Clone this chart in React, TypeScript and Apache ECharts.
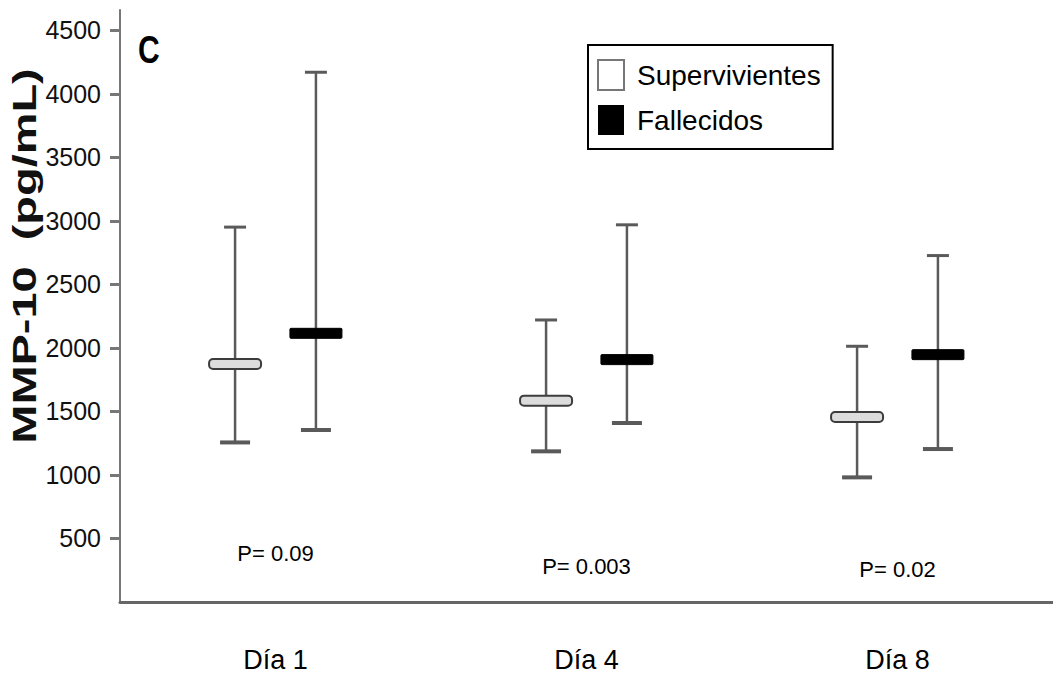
import React, { useEffect, useRef } from "react";
import * as echarts from "echarts";

const categories = ["Día 1", "Día 4", "Día 8"];
const seriesNames = ["Supervivientes", "Fallecidos"];
// [low, median, high] per day
const survLow = [1256, 1186, 981];
const survMedian = [1874, 1585, 1456];
const survHigh = [2951, 2220, 2013];
const fallLow = [1354, 1409, 1204];
const fallMedian = [2115, 1908, 1947];
const fallHigh = [4170, 2969, 2727];
const yTicks = [500, 1000, 1500, 2000, 2500, 3000, 3500, 4000, 4500];
const pLabels = ["P= 0.09", "P= 0.003", "P= 0.02"];
const pLabelY = [380, 278, 254];

const FONT = "'Liberation Sans', Arial, sans-serif";

function makeRenderer(offsetFrac: number, kind: "surv" | "fall") {
  return (params: any, api: any) => {
    const cat = api.value(0);
    const low = api.value(1);
    const med = api.value(2);
    const high = api.value(3);
    const band = api.size([1, 0])[0];
    const xc = api.coord([cat, med])[0] + offsetFrac * band;
    const yLow = api.coord([cat, low])[1];
    const yMed = api.coord([cat, med])[1];
    const yHigh = api.coord([cat, high])[1];
    const lineCol = "#5a5a5a";
    return {
      type: "group",
      children: [
        {
          type: "line",
          shape: { x1: xc, y1: yHigh, x2: xc, y2: yLow },
          style: { stroke: lineCol, lineWidth: 2.5 },
        },
        {
          type: "line",
          shape: { x1: xc - 11, y1: yHigh, x2: xc + 11, y2: yHigh },
          style: { stroke: lineCol, lineWidth: 3 },
        },
        {
          type: "line",
          shape: { x1: xc - 15, y1: yLow, x2: xc + 15, y2: yLow },
          style: { stroke: lineCol, lineWidth: 4 },
        },
        {
          type: "rect",
          shape: { x: xc - 26, y: yMed - 5, width: 52, height: 10, r: kind === "surv" ? 4 : 1 },
          style:
            kind === "surv"
              ? { fill: "#dcdcdc", stroke: "#3c3c3c", lineWidth: 2 }
              : { fill: "#000", stroke: "#000", lineWidth: 1 },
        },
      ],
    };
  };
}

export default function App() {
  const ref = useRef<HTMLDivElement>(null);
  useEffect(() => {
    if (!ref.current) return;
    const chart = echarts.init(ref.current, null, { renderer: "svg" });
    const survData = categories.map((_, i) => [i, survLow[i], survMedian[i], survHigh[i]]);
    const fallData = categories.map((_, i) => [i, fallLow[i], fallMedian[i], fallHigh[i]]);
    const pData = categories.map((_, i) => [i, pLabelY[i]]);
    chart.setOption({
      animation: false,
      backgroundColor: "#fff",
      grid: { left: 120, right: 0, top: 10, bottom: 80, containLabel: false },
      legend: {
        orient: "vertical",
        left: 588,
        top: 45,
        backgroundColor: "#fff",
        borderColor: "#000",
        borderWidth: 2,
        borderRadius: 0,
        padding: [14, 12, 14, 9],
        itemWidth: 26,
        itemHeight: 30,
        itemGap: 14,
        selectedMode: false,
        textStyle: { fontFamily: FONT, fontSize: 28, color: "#000", padding: [0, 0, 0, 8] },
        data: [
          { name: seriesNames[0], icon: "rect", itemStyle: { color: "#fff", borderColor: "#777", borderWidth: 2 } },
          { name: seriesNames[1], icon: "rect", itemStyle: { color: "#000", borderWidth: 0 } },
        ],
      },
      xAxis: {
        type: "category",
        data: categories,
        axisLine: { lineStyle: { color: "#666", width: 3 } },
        axisTick: { show: false },
        axisLabel: { fontFamily: FONT, fontSize: 27, color: "#000", margin: 44 },
        splitLine: { show: false },
      },
      yAxis: {
        type: "value",
        min: 0,
        max: 4660,
        axisLine: { show: true, lineStyle: { color: "#777", width: 2 } },
        axisTick: { show: true, length: 10, customValues: yTicks, lineStyle: { color: "#777", width: 3 } },
        axisLabel: {
          customValues: yTicks,
          formatter: (v: number) => String(v),
          fontFamily: FONT,
          fontSize: 25,
          color: "#111",
          margin: 19,
        },
        splitLine: { show: false },
      },
      graphic: [
        {
          type: "text",
          x: 138,
          y: 30,
          scaleY: 1.3,
          style: { text: "C", fontFamily: FONT, fontWeight: "bold", fontSize: 30, fill: "#000" },
        },
        {
          type: "text",
          x: 24,
          y: 256,
          rotation: Math.PI / 2,
          scaleX: 1.38,
          style: {
            text: "MMP-10  (pg/mL)",
            fontFamily: FONT,
            fontWeight: "bold",
            fontSize: 34,
            fill: "#111",
            align: "center",
            verticalAlign: "middle",
          },
        },
      ],
      series: [
        {
          name: seriesNames[0],
          type: "custom",
          renderItem: makeRenderer(-0.13, "surv"),
          encode: { x: 0, y: [1, 2, 3] },
          itemStyle: { color: "#fff", borderColor: "#777" },
          data: survData,
          z: 3,
        },
        {
          name: seriesNames[1],
          type: "custom",
          renderItem: makeRenderer(0.13, "fall"),
          encode: { x: 0, y: [1, 2, 3] },
          itemStyle: { color: "#000" },
          data: fallData,
          z: 3,
        },
        {
          name: "p",
          type: "scatter",
          symbolSize: 0,
          silent: true,
          data: pData,
          itemStyle: { opacity: 1 },
          label: {
            show: true,
            position: "inside",
            formatter: (p: any) => pLabels[p.dataIndex],
            fontFamily: FONT,
            fontSize: 22,
            color: "#000",
            textBorderWidth: 0,
            opacity: 1,
          },
        },
      ],
    });
    return () => chart.dispose();
  }, []);
  return (
    <div
      ref={ref}
      style={{ position: "absolute", left: 0, top: 0, width: 1053, height: 682 }}
    />
  );
}
